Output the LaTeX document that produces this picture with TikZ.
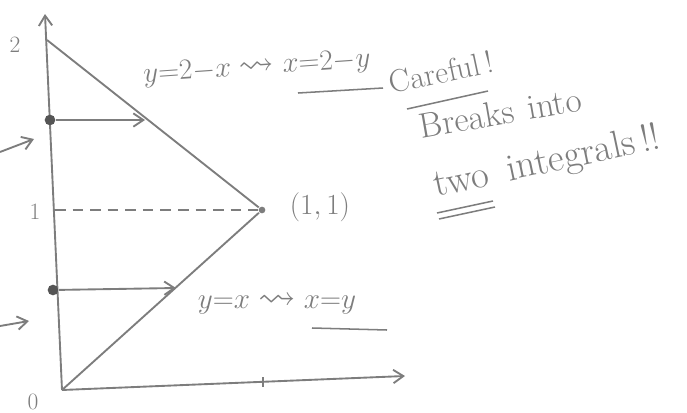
\documentclass[tikz,border=0pt]{standalone}
\usepackage{amsmath,amssymb}
\usepackage{xcolor}
\usetikzlibrary{arrows.meta,positioning,calc}
\definecolor{pencil}{RGB}{125,125,125}
\definecolor{lead}{RGB}{85,85,85}

\begin{document}
\begin{tikzpicture}[
  x={(0.03cm,0)}, y={(0,-0.03cm)},
  line width=1.4pt,
  pen/.style={draw=pencil, line width=1.6pt},
  arr/.style={pen, -{Straight Barb[length=3mm, width=4mm]}},
  dot/.style={circle, fill=lead, inner sep=0pt, minimum size=3.2mm},
  hand/.style={text=pencil, font=\fontsize{30}{32}\selectfont, inner sep=0pt},
  tick/.style={text=pencil, font=\fontsize{20}{22}\selectfont, inner sep=0pt},
  uline/.style={draw=pencil, line width=1.3pt}]
  \useasboundingbox (0,0) rectangle (687,413);
  % axes
  \coordinate (O) at (62,390);
  \coordinate (ytop) at (45,14);
  \coordinate (xend) at (405,376);
  \coordinate (T) at (47,40);
  \node[circle, fill=pencil, inner sep=0pt, minimum size=2mm] (P) at (262,210) {};
  \draw[arr] (O) -- (ytop);
  \draw[arr] (O) -- (xend);
  \draw[pen] (263,377) -- (263,387);
  \node[tick] (l2) at (15,45) {2};
  \node[tick] (l1) at (35,212) {1};
  \node[tick] (l0) at (33,402) {0};
  % region
  \draw[pen] (T) -- (P);
  \draw[pen] (O) -- (P);
  \coordinate (yone) at (55,210);
  \draw[pen, dashed, dash pattern=on 9pt off 6pt] (yone) -- (P);
  \node[hand] (pt) at (320,207) {$(1,1)$};
  % horizontal strips
  \node[dot] (d1) at (50,120) {};
  \node[dot] (d2) at (53,290) {};
  \coordinate (a1) at (145,120);
  \coordinate (a2) at (176,288);
  \draw[arr] (d1) -- (a1);
  \draw[arr] (d2) -- (a2);
  \coordinate (s1) at (0,152);
  \coordinate (e1) at (34,139);
  \coordinate (s2) at (0,326);
  \coordinate (e2) at (29,321);
  \draw[arr] (s1) -- (e1);
  \draw[arr] (s2) -- (e2);
  % labels
  \node[hand, rotate=4] (top) at (257,68) {$y{=}2{-}x \leadsto x{=}2{-}y$};
  \draw[uline] (298,93) -- (383,88);
  \node[hand, font=\fontsize{32}{34}\selectfont] (bot) at (277,304) {$y{=}x \leadsto x{=}y$};
  \draw[uline] (312,328) -- (387,330);
  % note
  \node[hand, font=\fontsize{27}{29}\selectfont, rotate=12, anchor=base west] (care) at (391,94) {Careful\,!};
  \draw[uline] (407,109) -- (488,91);
  \node[hand, rotate=10, anchor=base west] (brk1) at (421,139) {Breaks};
  \node[hand, rotate=10, anchor=base west] (brk2) at ($(brk1.base east)+(12,-2)$) {into};
  \node[hand, font=\fontsize{33}{35}\selectfont, rotate=12, anchor=base west] (two1) at (436,197) {two};
  \node[hand, font=\fontsize{33}{35}\selectfont, rotate=12, anchor=base west] (two2) at ($(two1.base east)+(17,-4)$) {integrals\,!!};
  \draw[uline] (437,213) -- (493,201);
  \draw[uline] (439,219) -- (495,207);
\end{tikzpicture}
\end{document}
